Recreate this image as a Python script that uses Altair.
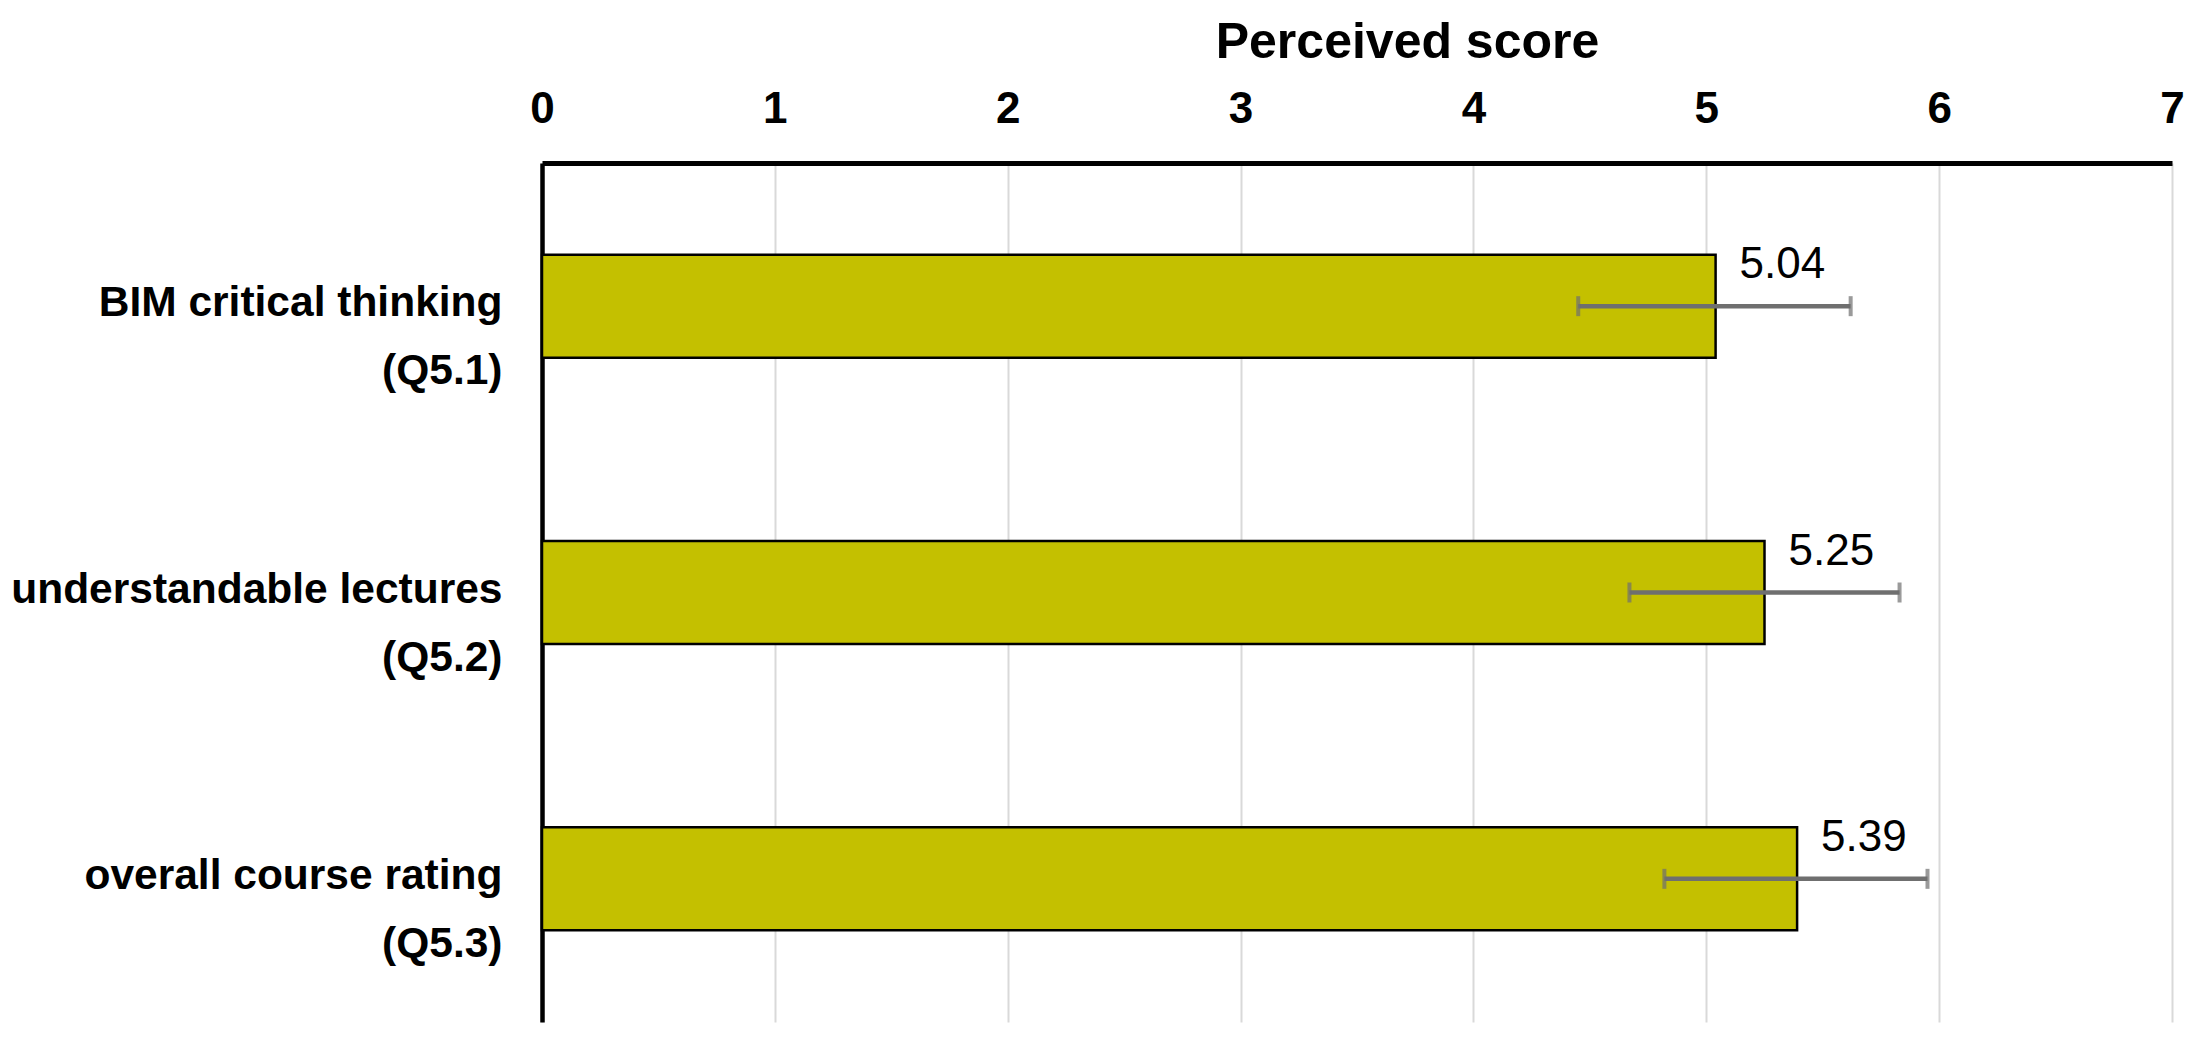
import altair as alt
import pandas as pd

# ---- data ----
categories = ["BIM critical thinking|(Q5.1)",
              "understandable lectures|(Q5.2)",
              "overall course rating|(Q5.3)"]
scores = [5.04, 5.25, 5.39]
err_low = [4.45, 4.67, 4.82]
err_high = [5.62, 5.83, 5.95]
x_ticks = [0, 1, 2, 3, 4, 5, 6, 7]
x_title = "Perceived score"

df = pd.DataFrame({"cat": categories, "score": scores,
                   "lo": err_low, "hi": err_high})

FONT = "Liberation Sans"
ERR = "#6f6f6f"

y_enc = alt.Y("cat:N", sort=categories,
              scale=alt.Scale(paddingInner=0.64, paddingOuter=0.32),
              axis=alt.Axis(title=None, labelExpr="split(datum.label, '|')",
                            labelFont=FONT, labelFontSize=42.5, labelFontWeight="bold",
                            labelColor="black", labelAlign="right", labelBaseline="middle",
                            labelOffset=-3, labelLineHeight=68, labelPadding=40,
                            labelLimit=600, ticks=False, grid=False,
                            domainColor="black", domainWidth=4.5))

x_scale = alt.Scale(domain=[0, 7], nice=False, zero=True)

bars = alt.Chart(df).mark_bar(fill="#C4C000", stroke="black", strokeWidth=2.5).encode(
    x=alt.X("score:Q", scale=x_scale,
            axis=alt.Axis(orient="top", values=x_ticks, format="d",
                          title=x_title, titleFont=FONT, titleFontSize=50,
                          titleFontWeight="bold", titleColor="black",
                          titleX=865, titleY=-106, titleAlign="center",
                          titleBaseline="alphabetic",
                          labelFont=FONT, labelFontSize=44, labelFontWeight="bold",
                          labelColor="black", labelBaseline="alphabetic",
                          labelPadding=41, labelFlush=False,
                          ticks=False, tickSize=0,
                          grid=True, gridColor="#d9d9d9", gridWidth=2,
                          domainColor="black", domainWidth=5)),
    y=y_enc,
)

err_rule = alt.Chart(df).mark_rule(color=ERR, strokeWidth=4.5).encode(
    x=alt.X("lo:Q", scale=x_scale), x2="hi:Q", y=alt.Y("cat:N", sort=categories))

cap_lo = alt.Chart(df).mark_tick(color=ERR, thickness=4, size=20, orient="vertical").encode(
    x=alt.X("lo:Q", scale=x_scale), y=alt.Y("cat:N", sort=categories))
cap_hi = alt.Chart(df).mark_tick(color=ERR, thickness=4, size=20, orient="vertical").encode(
    x=alt.X("hi:Q", scale=x_scale), y=alt.Y("cat:N", sort=categories))

labels = alt.Chart(df).mark_text(font=FONT, fontSize=44, color="black", align="left",
                                 baseline="alphabetic", dx=24, dy=-28).encode(
    x=alt.X("score:Q", scale=x_scale), y=alt.Y("cat:N", sort=categories),
    text=alt.Text("score:Q", format=".2f"))

chart = alt.layer(bars, err_rule, cap_lo, cap_hi, labels).properties(
    width=1630, height=859,
    autosize=alt.AutoSizeParams(type="none"),
    padding={"left": 534, "top": 155, "right": 16, "bottom": 10},
    background="white",
).configure_view(strokeWidth=0)

chart.save("out.html", embed_options={"renderer": "svg", "actions": False})
